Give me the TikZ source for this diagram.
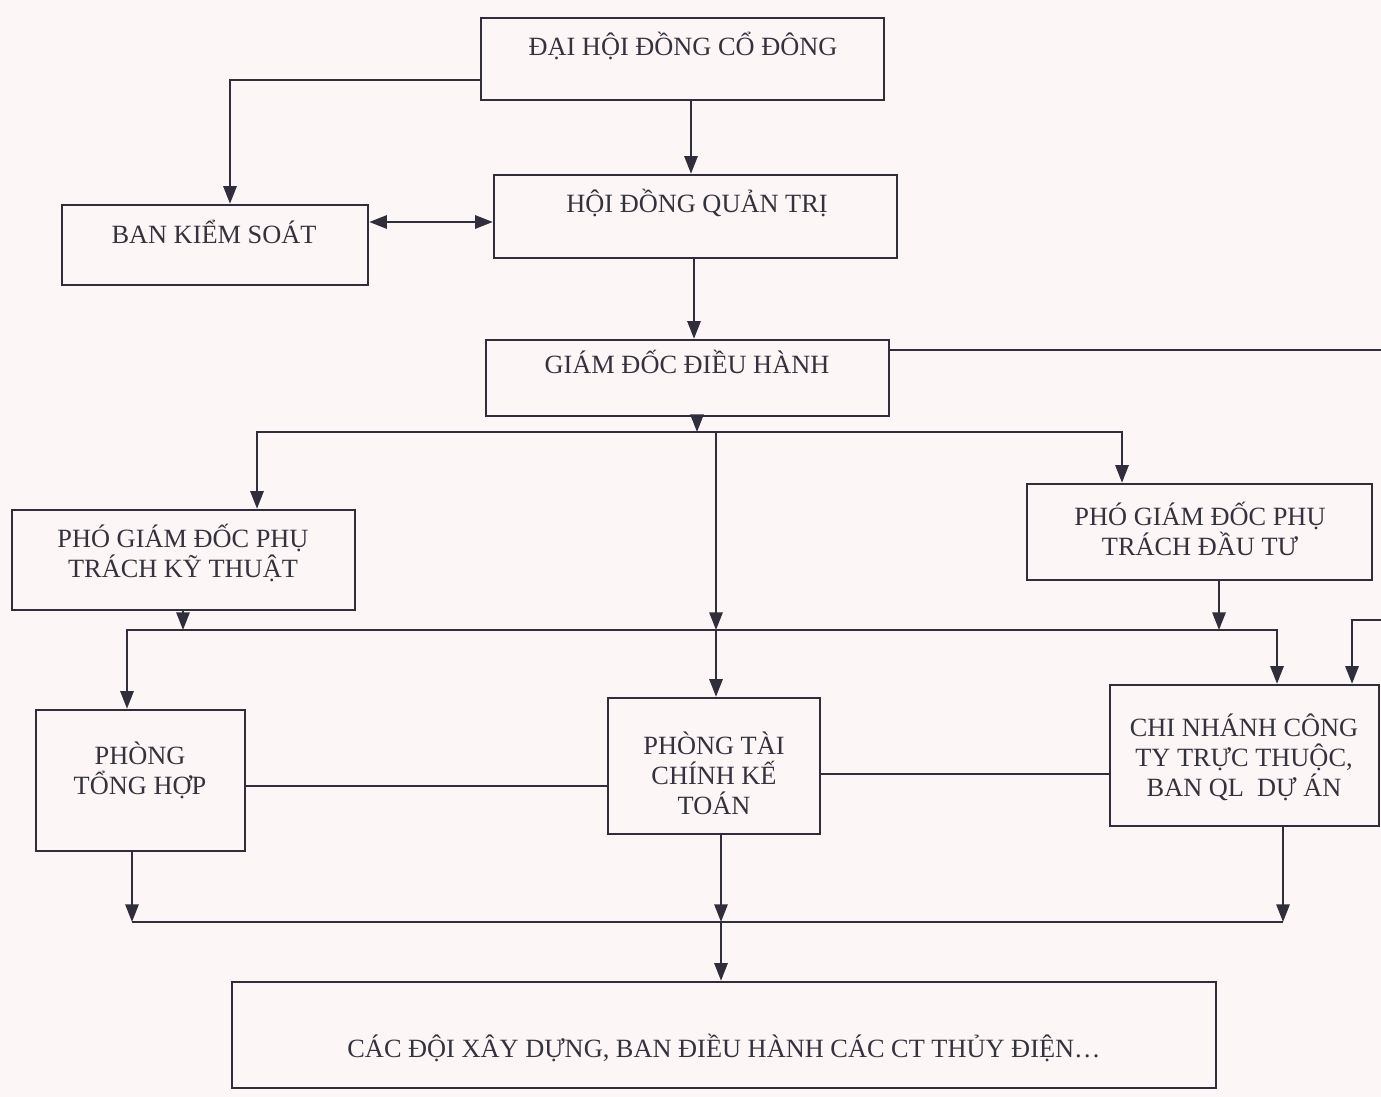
\documentclass[tikz,border=0pt]{standalone}
\usepackage{fontspec}
\setmainfont{Liberation Serif}
\usetikzlibrary{arrows.meta,fit}
\definecolor{paper}{RGB}{252,246,247}
\definecolor{ink}{RGB}{48,46,58}
\definecolor{txt}{RGB}{52,50,60}
\tikzset{
  box/.style={draw=ink, line width=1.4pt, inner sep=0pt, rectangle},
  lbl/.style={text=txt, align=center, font=\fontsize{15}{17}\selectfont, inner sep=0pt},
  conn/.style={draw=ink, line width=1.2pt},
  arr/.style={conn, -{Triangle[length=10pt,width=7.5pt]}},
  dblarr/.style={conn, {Triangle[length=10pt,width=7.5pt]}-{Triangle[length=10pt,width=7.5pt]}}
}
\begin{document}
\begin{tikzpicture}[x=0.02cm,y=-0.02cm]
\fill[paper] (0,0) rectangle (1381,1097);
\useasboundingbox (0,0) rectangle (1381,1097);

% boxes
\node[box, fit={(481,18)(884,100)}] (dh) {};
\node[lbl] (tdh) at (683,46) {ĐẠI HỘI ĐỒNG CỔ ĐÔNG};
\node[box, fit={(62,205)(368,285)}] (bks) {};
\node[lbl] (tbks) at (214,232) {BAN KIỂM SOÁT};
\node[box, fit={(494,175)(897,258)}] (hd) {};
\node[lbl] (thd) at (697,203) {HỘI ĐỒNG QUẢN TRỊ};
\node[box, fit={(486,340)(889,416)}] (gd) {};
\node[lbl] (tgd) at (687,362) {GIÁM ĐỐC ĐIỀU HÀNH};
\node[box, fit={(12,510)(355,610)}] (pkt) {};
\node[lbl] (tpkt) at (183,553) {PHÓ GIÁM ĐỐC PHỤ\\TRÁCH KỸ THUẬT};
\node[box, fit={(1027,484)(1372,580)}] (pdt) {};
\node[lbl] (tpdt) at (1200,529) {PHÓ GIÁM ĐỐC PHỤ\\TRÁCH ĐẦU TƯ};
\node[box, fit={(36,710)(245,851)}] (pth) {};
\node[lbl] (tpth) at (140,770) {PHÒNG\\TỔNG HỢP};
\node[box, fit={(608,698)(820,834)}] (ptc) {};
\node[lbl] (tptc) at (714,773) {PHÒNG TÀI\\CHÍNH KẾ\\TOÁN};
\node[box, fit={(1110,685)(1379,826)}] (cn) {};
\node[lbl] (tcn) at (1244,757) {CHI NHÁNH CÔNG\\TY TRỰC THUỘC,\\BAN QL\ \ DỰ ÁN};
\node[box, fit={(232,982)(1216,1088)}] (bot) {};
\node[lbl] (tbot) at (724,1048) {CÁC ĐỘI XÂY DỰNG, BAN ĐIỀU HÀNH CÁC CT THỦY ĐIỆN…};

% helper coordinates
\coordinate (j1) at (697,432);
\coordinate (b2) at (183,630);
\coordinate (b3) at (721,922);
\coordinate (re1) at (1381,350);
\coordinate (re2) at (1381,620);

% connectors
\draw[arr] (dh.west |- 0,80) -| (230,0 |- bks.north);
\draw[arr] (691,0 |- dh.south) -- (691,0 |- hd.north);
\draw[dblarr] (bks.east |- 0,222) -- (hd.west |- 0,222);
\draw[arr] (694,0 |- hd.south) -- (694,0 |- gd.north);
\draw[conn] (gd.east |- re1) -- (re1);
\draw[arr] (re2) -| (1352,0 |- cn.north);

\draw[arr] (697,0 |- gd.south) -- (j1);
\draw[arr] (j1) -| (257,0 |- pkt.north);
\draw[arr] (j1) -| (1122,0 |- pdt.north);
\draw[arr] (716,0 |- j1) -- (716,0 |- b2);
\draw[arr] (716,0 |- b2) -- (716,0 |- ptc.north);

\draw[arr] (183,0 |- pkt.south) -- (b2);
\draw[arr] (1219,0 |- pdt.south) -- (1219,0 |- b2);
\draw[arr] (b2) -| (127,0 |- pth.north);
\draw[arr] (b2) -| (1277,0 |- cn.north);

\draw[conn] (pth.east |- 0,786) -- (ptc.west |- 0,786);
\draw[conn] (ptc.east |- 0,774) -- (cn.west |- 0,774);

\draw[arr] (132,0 |- pth.south) -- (132,0 |- b3);
\draw[arr] (721,0 |- ptc.south) -- (b3);
\draw[arr] (1283,0 |- cn.south) -- (1283,0 |- b3);
\draw[conn] (132,0 |- b3) -- (1283,0 |- b3);
\draw[arr] (b3) -- (721,0 |- bot.north);
\end{tikzpicture}
\end{document}
